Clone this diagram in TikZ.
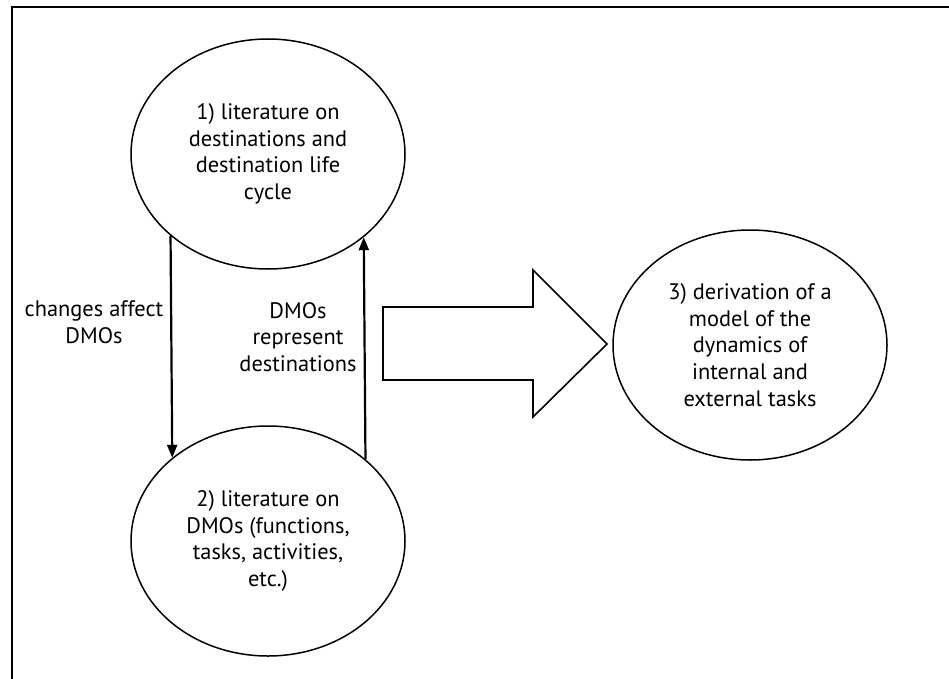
\documentclass[tikz,border=0pt]{standalone}
\usepackage{fontspec}
\setmainfont{PT Sans}
\usetikzlibrary{shapes.geometric,arrows.meta}
\newcommand{\bubblefont}{\fontsize{22.4}{26.6}\selectfont}
\tikzset{
  bubble/.style={draw, ellipse, line width=1.5pt, minimum width=274pt, minimum height=230pt,
    inner sep=0pt, align=center, font=\bubblefont},
  lbl/.style={inner sep=0pt, align=center, font=\bubblefont},
  conn/.style={line width=2.2pt, -{Triangle[length=13pt,width=10pt]}},
  frameline/.style={line width=1.5pt},
  bigarrow/.style={draw, line width=1.6pt, line join=miter}
}
\begin{document}
\begin{tikzpicture}[x=1pt,y=-1pt]
\useasboundingbox (0,0) rectangle (949,679);
% frame (top and left edges)
\draw[frameline] (12,679) -- (12,7) -- (949,7);
% ellipses
\node[bubble] (e1) at (268,154) {1) literature on\\destinations and\\destination life\\cycle};
\node[bubble] (e2) at (268,541) {2) literature on\\DMOs (functions,\\tasks, activities,\\etc.)};
\node[bubble] (e3) at (750,345) {3) derivation of a\\model of the\\dynamics of\\internal and\\external tasks};
% connectors
\draw[conn] (e1.220.85) -- (e2.139.15);
\draw[conn] (e2.40.85) -- (e1.319.15);
% labels
\node[lbl] (l1) at (94,322) {changes affect\\DMOs};
\node[lbl] (l2) at (298,337) {DMOs\\represent\\destinations};
% block arrow
\draw[bigarrow] (383,307) -- (533,307) -- (533,270) -- (607,344) -- (533,417) -- (533,380) -- (383,380) -- cycle;
\end{tikzpicture}
\end{document}
